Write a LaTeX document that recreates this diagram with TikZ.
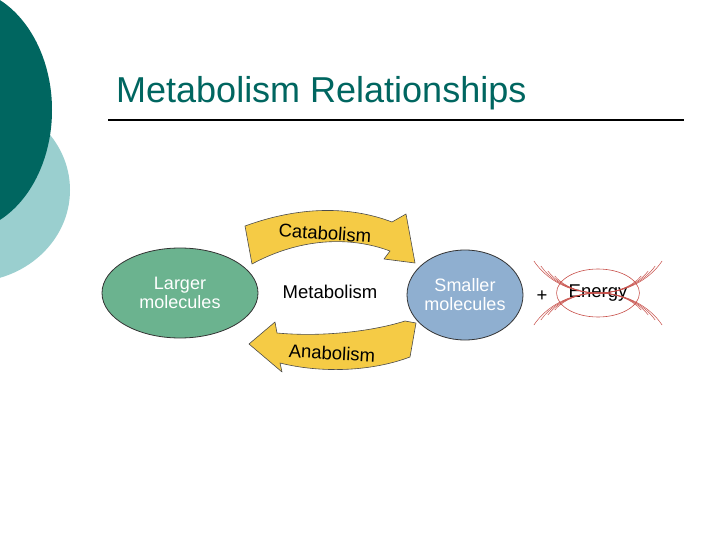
\documentclass[tikz,border=0pt]{standalone}
\usepackage{fontspec}
\setmainfont{Liberation Sans}
\usetikzlibrary{shapes.geometric}
\definecolor{dteal}{HTML}{006660}
\definecolor{lteal}{HTML}{9ACFCF}
\definecolor{lgreen}{HTML}{6BB38F}
\definecolor{lblue}{HTML}{8FAFD0}
\definecolor{ayellow}{HTML}{F5CB45}
\definecolor{ered}{HTML}{C8504A}
\begin{document}
\begin{tikzpicture}[x=1pt,y=-1pt,
  mol/.style={ellipse,draw=black!80,line width=0.8pt,text=white,font=\fontsize{18}{19}\selectfont,align=center,inner sep=0pt},
  lbl/.style={font=\fontsize{18.5}{20}\selectfont},
  band/.style={fill=ayellow,draw=black!70,line width=0.6pt,line join=round},
  wave/.style={draw=ered,line width=0.5pt}]
\useasboundingbox (0,0) rectangle (720,540);
\fill[white] (0,0) rectangle (720,540);
\begin{scope}
\clip (0,0) rectangle (720,540);
\fill[lteal] (-30,190) ellipse (100 and 92);
\fill[dteal] (-40,110) ellipse (92 and 122);
\end{scope}
\node[anchor=base west,font=\fontsize{36}{38}\selectfont,text=dteal,inner sep=0] (title) at (116,103) {Metabolism Relationships};
\coordinate (l1) at (108,120); \coordinate (l2) at (684,120);
\draw[line width=1.2pt] (l1) -- (l2);
\node[mol,fill=lgreen,minimum width=156,minimum height=90] (large) at (180,293) {Larger\\molecules};
\node[mol,fill=lblue,minimum width=116,minimum height=90] (small) at (465,295) {Smaller\\molecules};
\node[lbl] (met) at (330,292) {Metabolism};
\node[lbl] (plus) at (542,296) {+};
\node[ellipse,draw=ered,line width=0.6pt,minimum width=76,minimum height=48,inner sep=0,lbl] (energy) at (598,293) {Energy};
\foreach \r/\s in {50/34,58/44,66/54,74/64}{
  \draw[wave] (598,293) ++(-150:\r pt and \s pt) arc[start angle=-150,end angle=-30,x radius=\r,y radius=\s];
  \draw[wave] (598,293) ++(150:\r pt and \s pt) arc[start angle=150,end angle=30,x radius=\r,y radius=\s];
}
\path[band] (245,226) .. controls (300,206) and (350,206) .. (392,222) -- (406,214) -- (415,263) -- (384,259) -- (390,251) .. controls (350,236) and (300,238) .. (252,264) -- cycle;
\node[lbl,rotate=-4] (cat) at (325,233) {Catabolism};
\path[band] (416,323) -- (410,357) .. controls (370,372) and (320,373) .. (280,363) -- (282,372) -- (249,344) -- (275,322) -- (277,333) .. controls (320,337) and (370,332) .. (405,321) -- cycle;
\node[lbl,rotate=-3] (ana) at (332,353) {Anabolism};
\end{tikzpicture}
\end{document}
